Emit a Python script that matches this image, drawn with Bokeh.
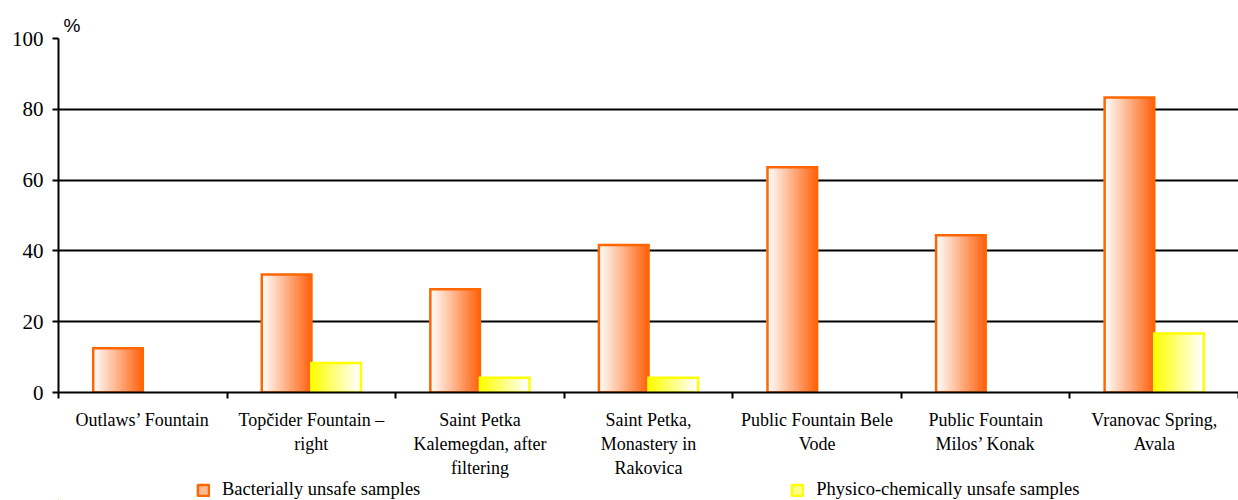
import numpy as np
from bokeh.plotting import figure
from bokeh.layouts import column
from bokeh.models import (ColumnDataSource, Range1d, FixedTicker, Legend, LegendItem)
from bokeh.embed import file_html
from bokeh.resources import INLINE

# ---- data ----
categories = [
    "Outlaws\u2019 Fountain",
    "Top\u010dider Fountain \u2013\nright",
    "Saint Petka\nKalemegdan, after\nfiltering",
    "Saint Petka,\nMonastery in\nRakovica",
    "Public Fountain Bele\nVode",
    "Public Fountain\nMilos\u2019 Konak",
    "Vranovac Spring,\nAvala",
]
bacterial = [12.5, 33.3, 29.2, 41.7, 63.6, 44.4, 83.3]
physico = [0.0, 8.3, 4.2, 4.2, 0.0, 0.0, 16.7]
y_ticks = [0, 20, 40, 60, 80, 100]
series_names = ["Bacterially unsafe samples", "Physico-chemically unsafe samples"]

# ---- style ----
FONT = "Liberation Serif"
ORANGE = (255, 102, 20)
YELLOW = (255, 255, 0)
WHITE = (255, 255, 255)
N_STRIPS = 30
BAR_W = 50 / 170.0
W = 1238

def mix(a, b, t):
    return "#%02x%02x%02x" % tuple(int(round(a[k] + (b[k] - a[k]) * t)) for k in range(3))

centers = np.arange(len(categories)) + 0.5

p = figure(width=W, height=480, output_backend="svg", toolbar_location=None,
           x_range=Range1d(0, len(categories)), y_range=Range1d(0, 100),
           min_border_left=58, min_border_right=0, min_border_top=38, min_border_bottom=0)
p.outline_line_color = None
p.background_fill_color = "white"
p.border_fill_color = "white"

def gradient_bars(values, x_shift, c_left, c_right, edge):
    xs, tops, cols = [], [], []
    sw = BAR_W / N_STRIPS
    ox, ot = [], []
    for c, v in zip(centers, values):
        if v <= 0:
            continue
        left = c + x_shift - BAR_W / 2
        for j in range(N_STRIPS):
            xs.append(left + (j + 0.5) * sw)
            tops.append(v)
            cols.append(mix(c_left, c_right, j / (N_STRIPS - 1)))
        ox.append(c + x_shift)
        ot.append(v)
    src = ColumnDataSource(dict(x=xs, top=tops, color=cols))
    p.vbar(x="x", top="top", bottom=0, width=sw * 2.0, source=src,
           fill_color="color", line_color=None)
    osrc = ColumnDataSource(dict(x=ox, top=ot))
    p.vbar(x="x", top="top", bottom=0, width=BAR_W, source=osrc,
           fill_color=None, line_color=edge, line_width=2.5, line_join="miter")

gradient_bars(bacterial, -BAR_W / 2, WHITE, ORANGE, "#ff6600")
gradient_bars(physico, BAR_W / 2, YELLOW, WHITE, "#ffff00")

# ---- axes ----
xa = p.xaxis[0]
xa.ticker = FixedTicker(ticks=list(centers), minor_ticks=list(range(len(categories) + 1)))
xa.major_label_overrides = {float(c): lab for c, lab in zip(centers, categories)}
xa.major_tick_out = 0
xa.major_tick_in = 0
xa.minor_tick_out = 6
xa.minor_tick_in = 0
xa.minor_tick_line_width = 2
xa.minor_tick_line_color = "black"
xa.axis_line_width = 2
xa.axis_line_color = "black"
xa.major_label_text_font = FONT
xa.major_label_text_font_size = "18px"
xa.major_label_text_color = "black"
xa.major_label_text_line_height = 1.2
xa.major_label_standoff = 11

ya = p.yaxis[0]
ya.ticker = FixedTicker(ticks=y_ticks)
ya.axis_line_width = 2
ya.axis_line_color = "black"
ya.major_tick_out = 6
ya.major_tick_in = 0
ya.major_tick_line_width = 2
ya.minor_tick_out = 0
ya.minor_tick_in = 0
ya.major_label_text_font = FONT
ya.major_label_text_font_size = "21px"
ya.major_label_text_color = "black"
ya.major_label_standoff = 9

p.xgrid.visible = False
p.ygrid.grid_line_color = "black"
p.ygrid.grid_line_width = 2
p.ygrid.ticker = FixedTicker(ticks=y_ticks[1:])

# ---- title "%" ----
p.title.text = "%"
p.title.text_font = "Liberation Sans"
p.title.text_font_size = "19px"
p.title.text_font_style = "normal"
p.title.text_color = "black"
p.title.offset = 5
p.title.standoff = 6

# ---- legend strip (separate small figure under the chart) ----
lf = figure(width=W, height=20, output_backend="svg", toolbar_location=None,
            x_axis_type=None, y_axis_type=None, x_range=Range1d(0, 1), y_range=Range1d(0, 1),
            min_border=0)
lf.outline_line_color = None
lf.xgrid.visible = False
lf.ygrid.visible = False
# legend-only swatch renderers, kept outside the visible range
lb = lf.vbar(x=[-5], top=[-5], width=0.1, fill_color="#ffb894", line_color="#ff6600", line_width=2.5)
lp = lf.vbar(x=[-5], top=[-5], width=0.1, fill_color="#ffff8c", line_color="#ffff00", line_width=2.5)
legend = Legend(items=[
    LegendItem(label=series_names[0], renderers=[lb]),
    LegendItem(label=series_names[1], renderers=[lp]),
], orientation="horizontal", location=(138, 0))
legend.glyph_width = 14
legend.glyph_height = 14
legend.label_text_font = FONT
legend.label_text_font_size = "18.5px"
legend.label_text_color = "black"
legend.label_standoff = 12
legend.spacing = 370
legend.padding = 0
legend.margin = 0
legend.border_line_color = None
legend.background_fill_alpha = 0
lf.add_layout(legend)

layout = column(p, lf, spacing=0)
open("out.html", "w").write(file_html(layout, INLINE))
